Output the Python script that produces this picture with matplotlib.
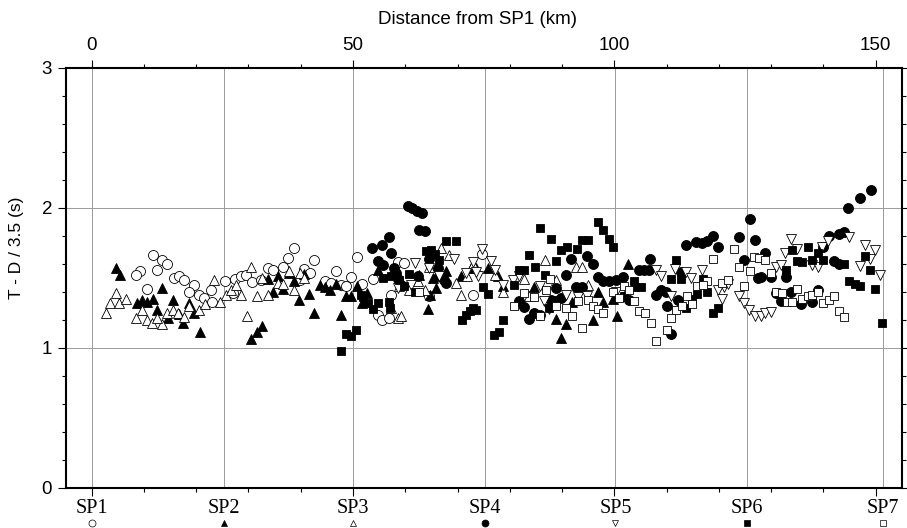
import matplotlib
matplotlib.use('Agg')
import matplotlib.pyplot as plt
import matplotlib.transforms as mtransforms
from matplotlib.ticker import MultipleLocator
import numpy as np

# shot point positions (km from SP1)
sp_names = ['SP1', 'SP2', 'SP3', 'SP4', 'SP5', 'SP6', 'SP7']
sp_km = [0.0, 25.3, 50.0, 75.3, 100.2, 125.4, 151.4]

# residual travel times (T - D/3.5) per shot point
sp1_x = [11.8, 13.5, 14.5, 9.3, 8.4, 12.6, 15.7, 16.7, 17.6, 19.5, 10.5, 18.6, 20.5, 21.5, 22.8, 23.1,
         25.6, 27.5, 28.6, 29.6, 30.7, 32.4, 33.7, 34.7, 36.6, 37.5, 38.7, 39.8, 40.7, 41.7, 42.6, 44.7,
         45.8, 46.8, 47.7, 48.7, 27.0, 49.7, 50.7, 51.7, 53.8, 54.7, 55.6, 56.9, 57.3, 58.6, 59.8, 64.6,
         72.9, 74.7]
sp1_y = [1.665, 1.63, 1.60, 1.546, 1.52, 1.553, 1.50, 1.51, 1.487, 1.451, 1.42, 1.40, 1.38, 1.356, 1.415, 1.33,
         1.475, 1.49, 1.51, 1.52, 1.47, 1.487, 1.57, 1.553, 1.58, 1.64, 1.71, 1.487, 1.56, 1.535, 1.624, 1.475,
         1.46, 1.546, 1.45, 1.44, 1.39, 1.506, 1.65, 1.458, 1.493, 1.237, 1.195, 1.214, 1.38, 1.61, 1.606, 1.368,
         1.38, 1.672]

sp2_x = [4.6, 5.5, 13.4, 9.7, 8.6, 10.6, 11.7, 15.5, 12.6, 14.6, 16.7, 17.5, 18.7, 19.5, 20.7,
         33.7, 35.6, 37.7, 40.7, 34.7, 36.6, 38.7, 39.6, 41.5, 42.6, 43.6, 44.7, 45.7, 32.6, 31.6, 30.5,
         47.7, 48.7, 46.8, 49.7, 50.8, 51.7, 52.6, 54.7, 64.3, 62.6, 65.3, 65.8, 64.7, 67.8, 70.7, 72.6,
         73.5, 84.7, 88.8, 90.8, 89.8, 92.0, 95.9, 97.9, 96.8, 99.8, 100.6, 78.7, 75.8, 77.7, 102.7, 101.9]
sp2_y = [1.57, 1.52, 1.43, 1.344, 1.32, 1.33, 1.35, 1.344, 1.27, 1.21, 1.24, 1.18, 1.316, 1.25, 1.11,
         1.49, 1.515, 1.535, 1.53, 1.40, 1.42, 1.475, 1.344, 1.387, 1.25, 1.45, 1.435, 1.415, 1.154, 1.11, 1.064,
         1.237, 1.37, 1.458, 1.368, 1.44, 1.32, 1.39, 1.558, 1.278, 1.52, 1.50, 1.43, 1.38, 1.546, 1.51, 1.57,
         1.57, 1.435, 1.207, 1.166, 1.07, 1.325, 1.197, 1.325, 1.40, 1.35, 1.225, 1.443, 1.57, 1.51, 1.60, 1.368]

sp3_x = [4.6, 3.6, 5.2, 6.5, 2.7, 9.6, 8.5, 10.6, 11.6, 13.5, 12.6, 14.5, 15.5, 16.6, 17.6, 18.6, 20.6, 21.7,
         23.5, 25.8, 26.7, 27.6, 28.6, 30.5, 31.6, 32.6, 33.7, 35.6, 36.6, 37.7, 38.7, 39.8, 40.7, 29.7, 24.5,
         57.3, 58.6, 59.2, 58.9, 60.8, 62.4, 63.7, 66.8, 68.4, 69.7, 70.7, 71.9, 64.6,
         86.8, 92.6, 93.8, 88.9, 94.9, 82.8, 77.1, 78.7, 83.6, 72.9]
sp3_y = [1.39, 1.32, 1.32, 1.35, 1.25, 1.27, 1.21, 1.20, 1.18, 1.166, 1.21, 1.25, 1.27, 1.245, 1.22, 1.30, 1.27, 1.31,
         1.487, 1.38, 1.415, 1.45, 1.38, 1.577, 1.37, 1.50, 1.38, 1.46, 1.457, 1.546, 1.41, 1.535, 1.50, 1.225, 1.33,
         1.285, 1.214, 1.225, 1.443, 1.415, 1.475, 1.415, 1.713, 1.665, 1.463, 1.38, 1.51, 1.58,
         1.624, 1.577, 1.577, 1.487, 1.45, 1.49, 1.52, 1.40, 1.368, 1.60]

sp4_x = [60.5, 61.3, 62.2, 63.2, 62.6, 63.7, 56.9, 53.7, 55.6, 57.3, 54.7, 55.7, 57.9, 58.2, 58.6, 59.2,
         64.6, 66.2, 66.5, 67.5, 67.8, 62.4,
         91.7, 94.7, 95.9, 90.8, 96.8, 97.8, 98.9, 100.3, 88.8, 92.6, 93.9, 81.7, 82.8, 87.9, 89.8, 84.7, 85.7, 83.7,
         113.8, 115.7, 116.8, 117.8, 118.8, 119.8, 123.8, 125.9, 127.0, 124.9, 127.4, 106.8, 104.8, 105.7, 106.7,
         101.6, 112.7, 108.9, 107.9, 109.9, 112.1, 110.0, 102.9, 110.8,
         149.1, 147.0, 144.8, 128.9, 128.0, 129.9, 132.8, 130.9, 131.8, 133.9, 135.8, 137.9, 139.0, 140.0, 141.0,
         142.9, 144.0, 142.1, 143.0]
sp4_y = [2.014, 1.998, 1.974, 1.962, 1.84, 1.83, 1.79, 1.713, 1.73, 1.68, 1.62, 1.594, 1.57, 1.535, 1.49, 1.45,
         1.634, 1.57, 1.51, 1.487, 1.463, 1.51,
         1.634, 1.653, 1.60, 1.52, 1.506, 1.475, 1.48, 1.487, 1.428, 1.435, 1.435, 1.332, 1.292, 1.34, 1.356, 1.25, 1.237, 1.207,
         1.73, 1.753, 1.748, 1.76, 1.80, 1.72, 1.79, 1.92, 1.767, 1.63, 1.50, 1.634, 1.558, 1.553, 1.553,
         1.506, 1.54, 1.415, 1.38, 1.40, 1.34, 1.30, 1.34, 1.095,
         2.123, 2.07, 1.998, 1.677, 1.506, 1.506, 1.506, 1.392, 1.332, 1.396, 1.309, 1.325, 1.41, 1.72, 1.80,
         1.815, 1.824, 1.617, 1.60]

sp5_x = [61.8, 64.6, 69.4, 72.9, 73.9, 58.6, 61.1, 66.5, 71.6,
         74.7, 76.4, 77.1, 80.7, 81.8, 78.7, 85.7, 90.8, 86.6, 93.0, 94.7, 100.3, 73.5, 87.6,
         107.9, 108.9, 111.6, 113.8, 114.6, 116.8, 119.9, 120.7, 121.0, 121.8, 110.8, 123.9, 124.9, 125.8, 127.0,
         133.8, 135.0, 132.7, 139.8, 140.8, 144.9, 147.9, 149.9, 148.9, 147.0, 150.9, 130.9, 131.8, 137.9, 138.9,
         128.0, 128.9, 129.9]
sp5_y = [1.606, 1.57, 1.634, 1.61, 1.51, 1.428, 1.45, 1.51, 1.535,
         1.706, 1.617, 1.553, 1.487, 1.51, 1.45, 1.443, 1.38, 1.332, 1.363, 1.368, 1.40, 1.54, 1.278,
         1.553, 1.515, 1.563, 1.54, 1.50, 1.553, 1.41, 1.35, 1.435, 1.458, 1.368, 1.368, 1.316, 1.27, 1.225,
         1.777, 1.706, 1.677, 1.72, 1.76, 1.79, 1.736, 1.70, 1.634, 1.587, 1.52, 1.577, 1.594, 1.594, 1.58,
         1.23, 1.245, 1.253]

sp6_x = [48.7, 47.7,
         67.8, 69.7, 64.0, 64.9, 65.6, 66.5, 60.7, 55.7, 57.3, 58.9, 59.8, 61.8, 51.6, 51.9, 52.8, 53.8, 54.7,
         56.9, 57.0, 49.6, 50.6, 70.9, 71.6, 72.3, 72.9, 73.5,
         85.8, 87.9, 83.7, 84.9, 81.8, 82.8, 86.8, 89.8, 90.9, 92.8, 93.9, 94.9, 96.8, 97.9, 98.9, 99.8, 88.8,
         80.9, 74.8, 75.8, 78.8, 77.9, 76.9, 88.2, 87.6,
         111.8, 110.8, 112.7, 103.8, 104.0, 105.1, 101.9, 116.9, 117.8, 115.9, 114.9, 113.8, 118.9, 119.9,
         134.0, 137.0, 139.0, 134.9, 135.9, 137.9, 139.9, 144.0, 132.9, 147.9, 148.9, 144.9, 146.0, 147.1, 149.9, 151.2]
sp6_y = [1.095, 0.976,
         1.76, 1.76, 1.69, 1.70, 1.672, 1.63, 1.527, 1.50, 1.51, 1.487, 1.443, 1.40, 1.38, 1.363, 1.316, 1.278, 1.316,
         1.325, 1.285, 1.087, 1.125, 1.20, 1.237, 1.26, 1.285, 1.27,
         1.855, 1.777, 1.665, 1.58, 1.558, 1.553, 1.52, 1.696, 1.72, 1.706, 1.767, 1.772, 1.895, 1.84, 1.777, 1.72, 1.617,
         1.45, 1.435, 1.387, 1.197, 1.11, 1.088, 1.34, 1.285,
         1.63, 1.49, 1.49, 1.48, 1.435, 1.435, 1.372, 1.49, 1.40, 1.387, 1.35, 1.285, 1.25, 1.285,
         1.70, 1.72, 1.68, 1.617, 1.61, 1.624, 1.624, 1.60, 1.553, 1.657, 1.553, 1.48, 1.458, 1.443, 1.42, 1.173]

sp7_x = [62.7,
         87.7, 80.9, 82.8, 84.7, 86.9, 88.8, 90.8, 91.9, 93.9, 85.8, 93.0, 94.9, 95.9, 96.8, 97.9, 99.8,
         122.9, 118.8, 123.9, 125.9, 126.8, 124.9, 117.8, 115.9, 116.9, 120.7, 101.9, 102.8, 103.8, 100.9,
         104.8, 105.9, 107.0, 110.0, 108.0, 110.8, 111.8, 112.9, 113.9, 114.9, 121.8,
         127.7, 128.9, 129.9, 130.9, 132.1, 135.0, 133.0, 134.0, 136.0, 137.0, 137.9, 138.9, 140.0, 141.0,
         142.1, 142.9, 144.0]
sp7_y = [1.40,
         1.49, 1.297, 1.392, 1.363, 1.415, 1.297, 1.285, 1.225, 1.142, 1.225, 1.332, 1.344, 1.30, 1.278, 1.245, 1.40,
         1.706, 1.634, 1.58, 1.546, 1.65, 1.44, 1.48, 1.443, 1.45, 1.463, 1.443, 1.41, 1.332, 1.356,
         1.26, 1.245, 1.18, 1.125, 1.047, 1.214, 1.27, 1.30, 1.368, 1.31, 1.487,
         1.64, 1.624, 1.535, 1.40, 1.392, 1.42, 1.325, 1.325, 1.35, 1.368, 1.38, 1.396, 1.32, 1.34,
         1.372, 1.26, 1.22]

# marker style per shot point: (marker, filled, size)
styles = [('o', False, 7.2), ('^', True, 6.7), ('^', False, 6.7), ('o', True, 7.2),
          ('v', False, 6.7), ('s', True, 5.4), ('s', False, 5.4)]
series = [(sp1_x, sp1_y), (sp2_x, sp2_y), (sp3_x, sp3_y), (sp4_x, sp4_y),
          (sp5_x, sp5_y), (sp6_x, sp6_y), (sp7_x, sp7_y)]

plt.rcParams['font.family'] = ['Liberation Sans', 'DejaVu Sans']

fig = plt.figure(figsize=(9.07, 5.28), dpi=100)
ax = fig.add_axes([0.0728, 0.0763, 0.922, 0.7955])

# grid lines: shot points and whole seconds
grid_kw = dict(color='#9a9a9a', lw=0.7, zorder=0)
for xk in sp_km:
    ax.axvline(xk, **grid_kw)
for yv in [1, 2]:
    ax.axhline(yv, **grid_kw)

for (xs, ys), (mk, filled, ms) in zip(series, styles):
    ax.plot(xs, ys, ls='none', marker=mk, ms=ms,
            mfc='black' if filled else 'white', mec='black', mew=0.6, zorder=3)

ax.set_xlim(-4.9, 155.1)
ax.set_ylim(0, 3)

# axes and ticks
for s in ax.spines.values():
    s.set_linewidth(1.5)
ax.xaxis.set_major_locator(MultipleLocator(50))
ax.xaxis.set_minor_locator(MultipleLocator(10))
ax.yaxis.set_major_locator(MultipleLocator(1))
ax.yaxis.set_minor_locator(MultipleLocator(0.2))
ax.tick_params(which='both', direction='out', top=True, bottom=True, left=True, right=True,
               labeltop=True, labelbottom=False, labelleft=True, labelright=False, width=0.8)
ax.tick_params(which='major', length=6, labelsize=13.5, pad=4)
ax.tick_params(which='minor', length=3)

fig.text(0.527, 1 - 20 / 528, 'Distance from SP1 (km)', ha='center', va='center', fontsize=13.5)
fig.text(17 / 907, 1 - 248 / 528, 'T - D / 3.5 (s)', rotation=90, ha='center', va='center', fontsize=12.5)

# shot point labels with their symbol below the bottom axis
trans = mtransforms.blended_transform_factory(ax.transData, ax.transAxes)
for name, xk, (mk, filled, ms) in zip(sp_names, sp_km, styles):
    ax.text(xk, -0.05, name, transform=trans, ha='center', va='center',
            fontsize=14.5, family=['Liberation Serif', 'DejaVu Serif'])
    ax.plot([xk], [-0.083], transform=trans, marker=mk, ms=ms * 0.7, ls='none',
            mfc='black' if filled else 'white', mec='black', mew=0.5, clip_on=False)

fig.savefig('out.png', dpi=100)
